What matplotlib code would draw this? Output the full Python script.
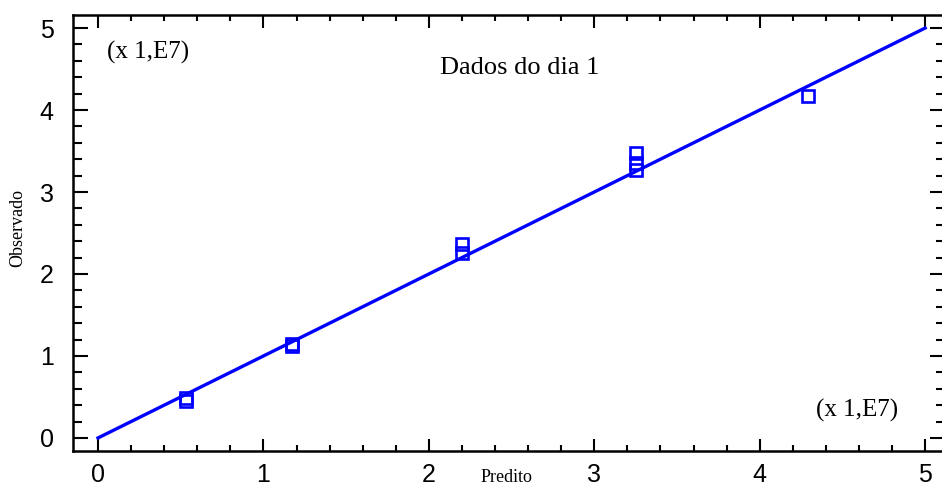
import matplotlib
matplotlib.use('Agg')
import matplotlib.pyplot as plt
from matplotlib import rc
from matplotlib.ticker import MultipleLocator

font = {'family': 'Liberation Sans',
        'weight': 'normal',
        'size': 18}
rc('font', **font)

# valores em unidades de 1e7
predito = [0.53, 0.53, 1.17, 1.17, 2.20, 2.20, 3.25, 3.25, 3.25, 4.29]
observado = [0.455, 0.49, 1.12, 1.15, 2.25, 2.37, 3.27, 3.35, 3.48, 4.165]
linha_x = [0, 5]
linha_y = [0, 5]

fig = plt.figure(figsize=(9.42, 4.88), dpi=100)
ax = fig.add_axes([73 / 942, 37 / 488, 872 / 942, 436 / 488])

ax.plot(linha_x, linha_y, color='#0000ff', lw=2.4, zorder=2)
ax.plot(predito, observado, ls='none', marker='s', ms=8, mfc='none',
        mec='#0000ff', mew=1.9, zorder=3)

ax.set_xlim(-0.151, 5.12)
ax.set_ylim(-0.159, 5.159)

ax.xaxis.set_major_locator(MultipleLocator(1))
ax.xaxis.set_minor_locator(MultipleLocator(0.2))
ax.yaxis.set_major_locator(MultipleLocator(1))
ax.yaxis.set_minor_locator(MultipleLocator(0.2))

ax.tick_params(axis='both', which='both', direction='in', top=True, right=True, width=1.5, color='black')
ax.tick_params(axis='x', which='major', length=9, pad=9)
ax.tick_params(axis='x', which='minor', length=4.5)
ax.tick_params(axis='y', which='major', length=11, pad=14)
ax.tick_params(axis='y', which='minor', length=6.5)
for s in ax.spines.values():
        s.set_linewidth(1.8)

serif = 'Liberation Serif'
fig.text(520 / 942, 1 - 68 / 488, 'Dados do dia 1', family=serif, fontsize=19, ha='center', va='center')
fig.text(148 / 942, 1 - 52 / 488, '(x 1,E7)', family=serif, fontsize=18, ha='center', va='center')
fig.text(857 / 942, 1 - 410 / 488, '(x 1,E7)', family=serif, fontsize=18, ha='center', va='center')
fig.text(18 / 942, 1 - 228 / 488, 'Observado', family=serif, fontsize=13, ha='center', va='center', rotation=90)
fig.text(506 / 942, 1 - 478 / 488, 'Predito', family=serif, fontsize=13, ha='center', va='center')

fig.savefig('out.png', dpi=100)
